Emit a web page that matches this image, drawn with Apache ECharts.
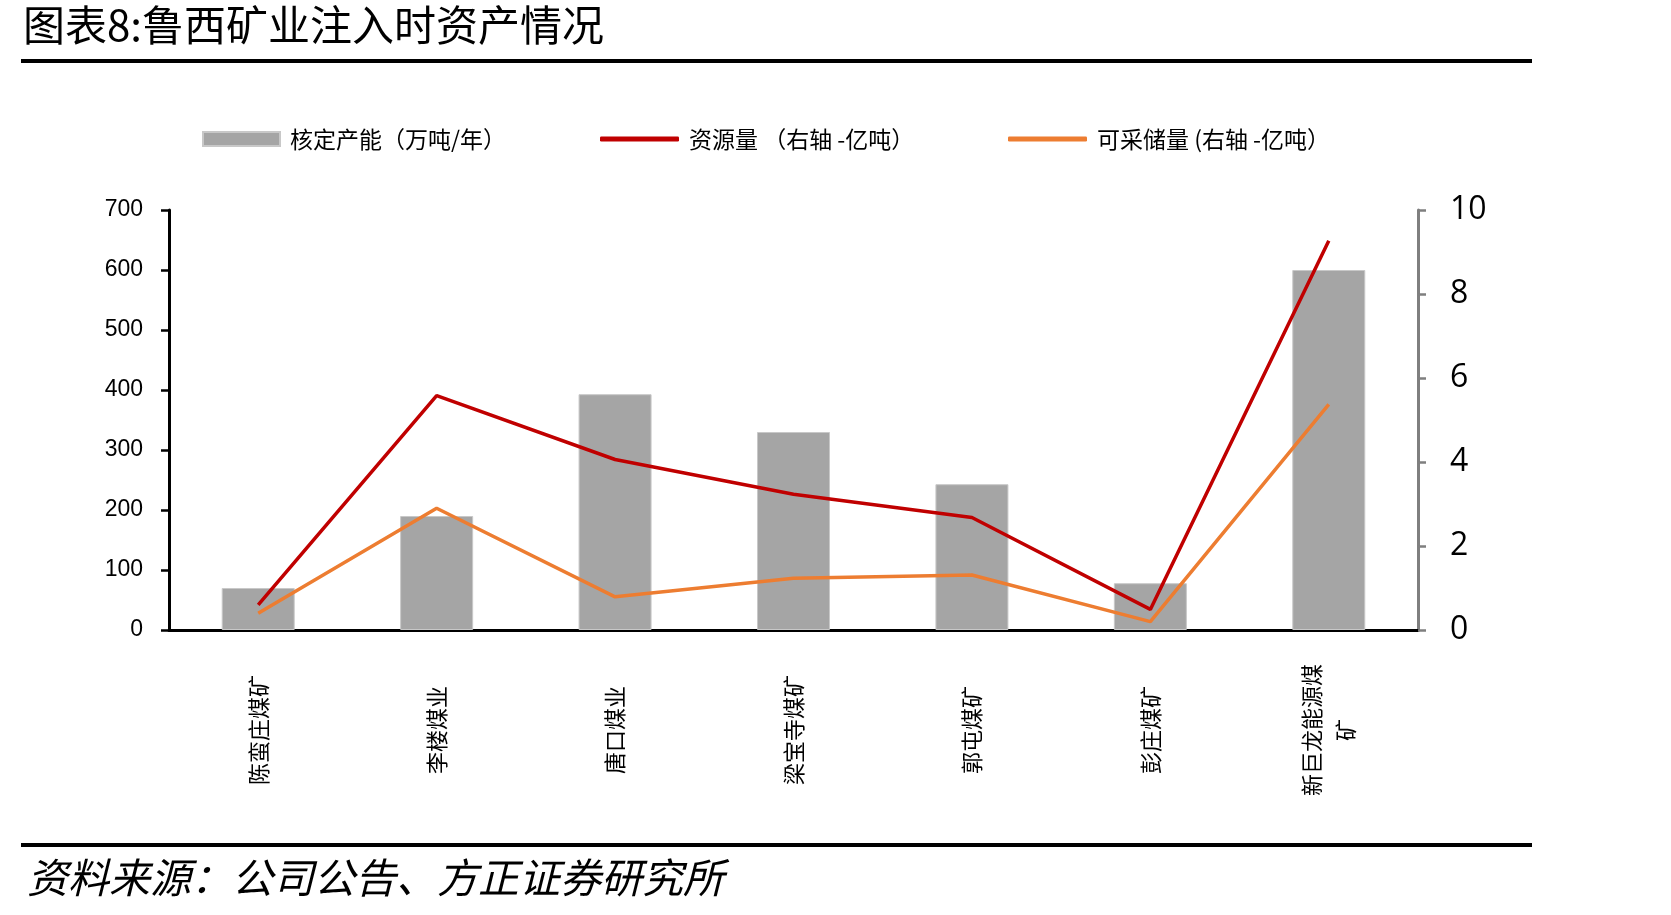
<!DOCTYPE html>
<html>
<head>
<meta charset="utf-8">
<script src="https://cdn.jsdelivr.net/npm/echarts@6/dist/echarts.min.js"></script>
<style>
  html, body { margin: 0; padding: 0; background: #fff; }
  #chart { width: 1671px; height: 915px; }
</style>
</head>
<body>
<div id="chart"></div>
<script>
// data
const mines = ['陈蛮庄煤矿', '李楼煤业', '唐口煤业', '梁宝寺煤矿', '郭屯煤矿', '彭庄煤矿', '新巨龙能源煤\n矿'];
const capacity = [70, 190, 393, 330, 243, 78, 600];     // 万吨/年, left axis
const resources = [0.6, 5.58, 4.06, 3.23, 2.68, 0.49, 9.27]; // 亿吨, right axis
const reserves = [0.4, 2.9, 0.79, 1.23, 1.31, 0.2, 5.37];    // 亿吨, right axis

const barName = '核定产能（万吨/年）';
const resName = '资源量 （右轴 -亿吨）';
const resvName = '可采储量 (右轴 -亿吨）';

const cjk = '"Noto Sans CJK SC", sans-serif';
const legendText = { fontSize: 23, color: '#000', fontFamily: cjk, lineHeight: 26, padding: [0, 0, 0, 5] };

const chart = echarts.init(document.getElementById('chart'));

chart.setOption({
  animation: false,
  backgroundColor: '#fff',
  graphic: [
    {
      type: 'text', left: 23, top: 4,
      style: { text: '图表8:鲁西矿业注入时资产情况', fontSize: 42, fontFamily: cjk, fill: '#000' },
    },
    { type: 'rect', shape: { x: 21, y: 59, width: 1511, height: 4 }, style: { fill: '#000' } },
    { type: 'rect', shape: { x: 21, y: 843, width: 1511, height: 4 }, style: { fill: '#000' } },
    {
      type: 'text', left: 27, top: 857,
      style: { text: '资料来源：公司公告、方正证券研究所', fontSize: 41, fontStyle: 'italic', fontFamily: cjk, fill: '#000' },
    },
  ],
  legend: [
    { data: [barName], left: 202, top: 126, padding: 0, icon: 'rect', itemWidth: 77, itemHeight: 14, textStyle: legendText },
    { data: [resName], left: 600, top: 126, padding: 0, icon: 'roundRect', itemWidth: 79, itemHeight: 5, textStyle: legendText },
    { data: [resvName], left: 1008, top: 126, padding: 0, icon: 'roundRect', itemWidth: 79, itemHeight: 5, textStyle: legendText },
  ],
  grid: { left: 169, right: 253, top: 210, bottom: 285, outerBoundsMode: 'none' },
  xAxis: {
    type: 'category',
    data: mines,
    boundaryGap: true,
    axisLine: { lineStyle: { color: '#000', width: 3 } },
    axisTick: { length: 8, lineStyle: { color: '#000', width: 2.5 } },
    axisLabel: {
      interval: 0,
      rotate: 90,
      align: 'center',
      verticalAlign: 'middle',
      margin: 100,
      fontSize: 22,
      lineHeight: 34,
      color: '#000',
      fontFamily: cjk,
    },
  },
  yAxis: [
    {
      type: 'value',
      position: 'left',
      min: 0,
      max: 700,
      interval: 100,
      axisLine: { show: true, lineStyle: { color: '#000', width: 3 } },
      axisTick: { show: true, length: 8, lineStyle: { color: '#000', width: 2.5 } },
      splitLine: { show: false },
      axisLabel: { margin: 26, fontSize: 23, color: '#000', fontFamily: '"Liberation Sans", Arial, sans-serif' },
    },
    {
      type: 'value',
      position: 'right',
      min: 0,
      max: 10,
      interval: 2,
      axisLine: { show: true, lineStyle: { color: '#7f7f7f', width: 3 } },
      axisTick: { show: true, length: 8, lineStyle: { color: '#7f7f7f', width: 2.5 } },
      splitLine: { show: false },
      axisLabel: { margin: 32, fontSize: 32, color: '#000', fontFamily: '"Open Sans", sans-serif' },
    },
  ],
  series: [
    {
      name: barName,
      type: 'bar',
      data: capacity,
      barWidth: 73,
      itemStyle: { color: '#A5A5A5', borderColor: '#C8C8C8', borderWidth: 1 },
    },
    {
      name: resName,
      type: 'line',
      yAxisIndex: 1,
      data: resources,
      symbol: 'none',
      itemStyle: { color: '#C00000' },
      lineStyle: { color: '#C00000', width: 3.5 },
    },
    {
      name: resvName,
      type: 'line',
      yAxisIndex: 1,
      data: reserves,
      symbol: 'none',
      itemStyle: { color: '#ED7D31' },
      lineStyle: { color: '#ED7D31', width: 3.5 },
    },
  ],
});
</script>
</body>
</html>
